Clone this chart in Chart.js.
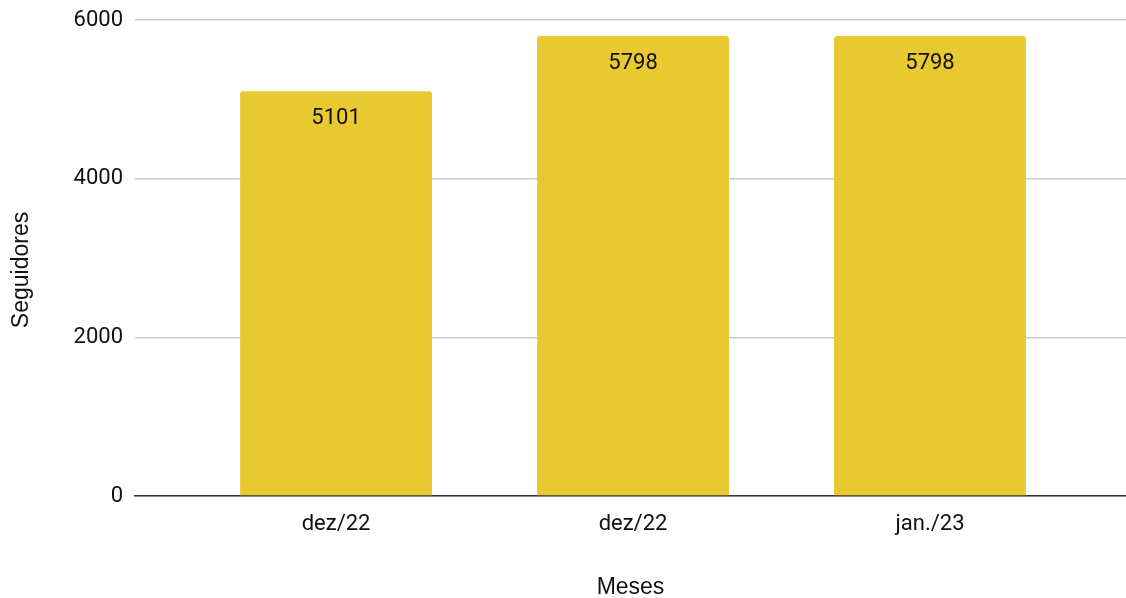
<!DOCTYPE html>
<html>
<head>
<meta charset="utf-8">
<script src="https://cdn.jsdelivr.net/npm/chart.js@4"></script>
<style>
  html, body { margin: 0; padding: 0; background: #fff; }
  #wrap { width: 1126px; height: 598px; }
</style>
</head>
<body>
<div id="wrap"><canvas id="seguidoresChart" width="1126" height="598"></canvas></div>
<script>
const meses = ['dez/22', 'dez/22', 'jan./23'];
const seguidores = [5101, 5798, 5798];
const yTicks = [0, 2000, 4000, 6000];

// escreve o valor dentro de cada barra, perto do topo
const valorNaBarra = {
  id: 'valorNaBarra',
  afterDatasetsDraw(chart) {
    const ctx = chart.ctx;
    const meta = chart.getDatasetMeta(0);
    ctx.save();
    ctx.font = '22px Roboto';
    ctx.fillStyle = '#111';
    ctx.textAlign = 'center';
    ctx.textBaseline = 'middle';
    meta.data.forEach((bar, i) => {
      ctx.fillText(String(seguidores[i]), bar.x, bar.y + 27);
    });
    ctx.restore();
  }
};

// título do eixo Y, um pouco abaixo do centro como no original
const tituloY = {
  id: 'tituloY',
  afterDraw(chart) {
    const ctx = chart.ctx;
    const area = chart.chartArea;
    ctx.save();
    ctx.translate(22, (area.top + area.bottom) / 2 + 12);
    ctx.rotate(-Math.PI / 2);
    ctx.font = '23px "Liberation Sans"';
    ctx.fillStyle = '#111';
    ctx.textAlign = 'center';
    ctx.textBaseline = 'middle';
    ctx.fillText('Seguidores', 0, 0);
    ctx.restore();
  }
};

const pontos = seguidores.map((v, i) => ({ x: i, y: v }));

const ctx = document.getElementById('seguidoresChart').getContext('2d');
new Chart(ctx, {
  type: 'bar',
  data: {
    datasets: [{
      label: 'Seguidores',
      data: pontos,
      backgroundColor: '#E8C92F',
      borderRadius: 3,
      categoryPercentage: 1,
      barPercentage: 0.646
    }]
  },
  options: {
    responsive: false,
    animation: false,
    layout: { padding: { top: 20, right: 0, left: 10, bottom: -3 } },
    plugins: {
      legend: { display: false },
      tooltip: { enabled: false }
    },
    scales: {
      x: {
        type: 'linear',
        min: -0.677,
        max: 2.66,
        offset: false,
        afterBuildTicks(axis) {
          axis.ticks = meses.map((m, i) => ({ value: i }));
        },
        grid: { display: false },
        border: { color: '#333', width: 1.5 },
        ticks: {
          color: '#111',
          font: { family: 'Roboto', size: 22 },
          padding: 7,
          maxRotation: 0,
          callback: (v) => meses[v]
        },
        title: {
          display: true,
          text: 'Meses',
          color: '#111',
          font: { family: 'Liberation Sans', size: 23 },
          padding: { top: 29, bottom: 0 }
        }
      },
      y: {
        min: 0,
        max: 6000,
        afterBuildTicks(axis) {
          axis.ticks = yTicks.map(v => ({ value: v }));
        },
        grid: { color: '#ccc', lineWidth: 1.5, drawTicks: false },
        border: { display: false },
        ticks: {
          color: '#111',
          font: { family: 'Roboto', size: 22 },
          padding: 12,
          callback: (v) => String(v)
        },
        afterFit(axis) {
          axis.width = 125;
          axis.paddingTop = 0;
        }
      }
    }
  },
  plugins: [valorNaBarra, tituloY]
});
</script>
</body>
</html>
